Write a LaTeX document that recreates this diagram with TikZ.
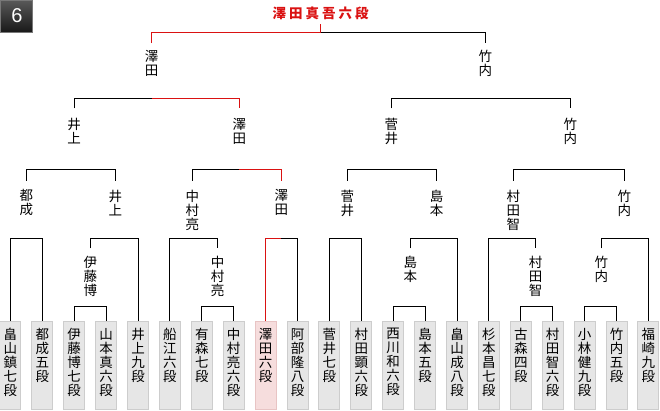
\documentclass[tikz,border=0pt]{standalone}
\usepackage{fontspec}
\newfontfamily\cjk{Noto Sans CJK JP}
\newfontfamily\badgefont{Liberation Sans}
\definecolor{winred}{RGB}{218,18,18}
\definecolor{boxfill}{RGB}{230,230,230}
\definecolor{boxline}{RGB}{205,205,205}
\definecolor{pinkfill}{RGB}{246,221,221}
\definecolor{pinkline}{RGB}{232,196,196}
\definecolor{badgetop}{RGB}{88,88,88}
\definecolor{badgebot}{RGB}{24,24,24}
\definecolor{badgeline}{RGB}{120,120,120}
\newcommand\brk[5]{\draw[ln] (#1.north|-0,#4) -- (#1.north|-0,#3) -- (#2.north|-0,#3) -- (#2.north|-0,#5);}
% red on right child, split at parent #6
\newcommand\brkR[6]{\draw[ln] (#1.north|-0,#4) -- (#1.north|-0,#3) -- (#6.north|-0,#3);
  \draw[rl] (#6.north|-0,#3) -- (#2.north|-0,#3) -- (#2.north|-0,#5);}
% red on left child
\newcommand\brkL[6]{\draw[rl] (#1.north|-0,#4) -- (#1.north|-0,#3) -- (#6.north|-0,#3);
  \draw[ln] (#6.north|-0,#3) -- (#2.north|-0,#3) -- (#2.north|-0,#5);}
\begin{document}
\begin{tikzpicture}[x=1pt,y=-1pt,
  ln/.style={line width=1pt,black},
  rl/.style={line width=1pt,winred},
  lbl/.style={font=\cjk\fontsize{13.5}{14}\selectfont,align=center,inner sep=0pt,anchor=north},
  leafbox/.style={draw=boxline,fill=boxfill,line width=1pt,minimum width=21pt,minimum height=88pt,inner sep=0pt,anchor=north},
  pinkbox/.style={leafbox,draw=pinkline,fill=pinkfill},
  leaftext/.style={font=\cjk\fontsize{13.5}{14}\selectfont,align=center,inner sep=0pt,anchor=north}]
\useasboundingbox (0,0) rectangle (660,410);
% badge
\node[draw=badgeline,line width=1pt,top color=badgetop,bottom color=badgebot,minimum width=32pt,minimum height=32pt,inner sep=0pt] (badge) at (16.5,16.5) {};
\node[font=\badgefont\fontsize{20}{20}\selectfont,text=white,inner sep=0pt] (badgenum) at (17,16) {6};
% title
\node[font=\cjk\bfseries\fontsize{13.5}{14}\selectfont,text=winred,inner sep=0pt] (T) at (320.7,13) {澤\hspace{3pt}田\hspace{3pt}真\hspace{3pt}吾\hspace{3pt}六\hspace{3pt}段};
% leaves
\foreach \i/\st/\t in {1/leafbox/畠\\山\\鎮\\七\\段, 2/leafbox/都\\成\\五\\段, 3/leafbox/伊\\藤\\博\\七\\段, 4/leafbox/山\\本\\真\\六\\段, 5/leafbox/井\\上\\九\\段, 6/leafbox/船\\江\\六\\段, 7/leafbox/有\\森\\七\\段, 8/leafbox/中\\村\\亮\\六\\段, 9/pinkbox/澤\\田\\六\\段, 10/leafbox/阿\\部\\隆\\八\\段, 11/leafbox/菅\\井\\七\\段, 12/leafbox/村\\田\\顕\\六\\段, 13/leafbox/西\\川\\和\\六\\段, 14/leafbox/島\\本\\五\\段, 15/leafbox/畠\\山\\成\\八\\段, 16/leafbox/杉\\本\\昌\\七\\段, 17/leafbox/古\\森\\四\\段, 18/leafbox/村\\田\\智\\六\\段, 19/leafbox/小\\林\\健\\九\\段, 20/leafbox/竹\\内\\五\\段, 21/leafbox/福\\崎\\九\\段}{
  \pgfmathsetmacro\xx{10.4+31.9*(\i-1)}
  \node[\st] (b\i) at (\xx,321) {};
  \node[leaftext] (t\i) at (\xx,328) {\t};
}
% labels level A
\node[lbl] (nA1) at (151.7,50) {澤\\田};
\node[lbl] (nA2) at (485.3,50) {竹\\内};
% level B
\node[lbl] (nB1) at (74,118) {井\\上};
\node[lbl] (nB2) at (239.3,118) {澤\\田};
\node[lbl] (nB3) at (391.3,118) {菅\\井};
\node[lbl] (nB4) at (570.3,118) {竹\\内};
% level C
\node[lbl] (nC1) at (26.3,189.5) {都\\成};
\node[lbl] (nC2) at (115.3,189.5) {井\\上};
\node[lbl] (nC3) at (192.3,189.5) {中\\村\\亮};
\node[lbl] (nC4) at (281.3,189.5) {澤\\田};
\node[lbl] (nC5) at (347.3,189.5) {菅\\井};
\node[lbl] (nC6) at (436.7,189.5) {島\\本};
\node[lbl] (nC7) at (513.3,189.5) {村\\田\\智};
\node[lbl] (nC8) at (624.3,189.5) {竹\\内};
% level D
\node[lbl] (nD1) at (90.3,255.5) {伊\\藤\\博};
\node[lbl] (nD2) at (217.7,255.5) {中\\村\\亮};
\node[lbl] (nD3) at (410.3,255.5) {島\\本};
\node[lbl] (nD4) at (535.7,255.5) {村\\田\\智};
\node[lbl] (nD5) at (601.3,255.5) {竹\\内};
% title tick and final
\draw[rl] (T.north|-0,24) -- (T.north|-0,32.3);
\brkL{nA1}{nA2}{32.3}{43}{43}{T}
% round B
\brkR{nB1}{nB2}{98.3}{108.3}{108.3}{nA1}
\brk{nB3}{nB4}{98.3}{108.3}{108.3}
% round C
\brk{nC1}{nC2}{169.3}{180.7}{180.7}
\brkR{nC3}{nC4}{169.3}{180.7}{180.7}{nB2}
\brk{nC5}{nC6}{169.3}{180.7}{180.7}
\brk{nC7}{nC8}{169.3}{180.7}{180.7}
% round D
\brk{b1}{b2}{238.3}{321}{321}
\brk{nD1}{b5}{238.3}{248.3}{321}
\brk{b6}{nD2}{238.3}{321}{248.3}
\brkL{b9}{b10}{238.3}{321}{321}{nC4}
\brk{b11}{b12}{238.3}{321}{321}
\brk{nD3}{b15}{238.3}{248.3}{321}
\brk{b16}{nD4}{238.3}{321}{248.3}
\brk{nD5}{b21}{238.3}{248.3}{321}
% round E
\brk{b3}{b4}{306}{321}{321}
\brk{b7}{b8}{306}{321}{321}
\brk{b13}{b14}{306}{321}{321}
\brk{b17}{b18}{306}{321}{321}
\brk{b19}{b20}{306}{321}{321}
\end{tikzpicture}
\end{document}
